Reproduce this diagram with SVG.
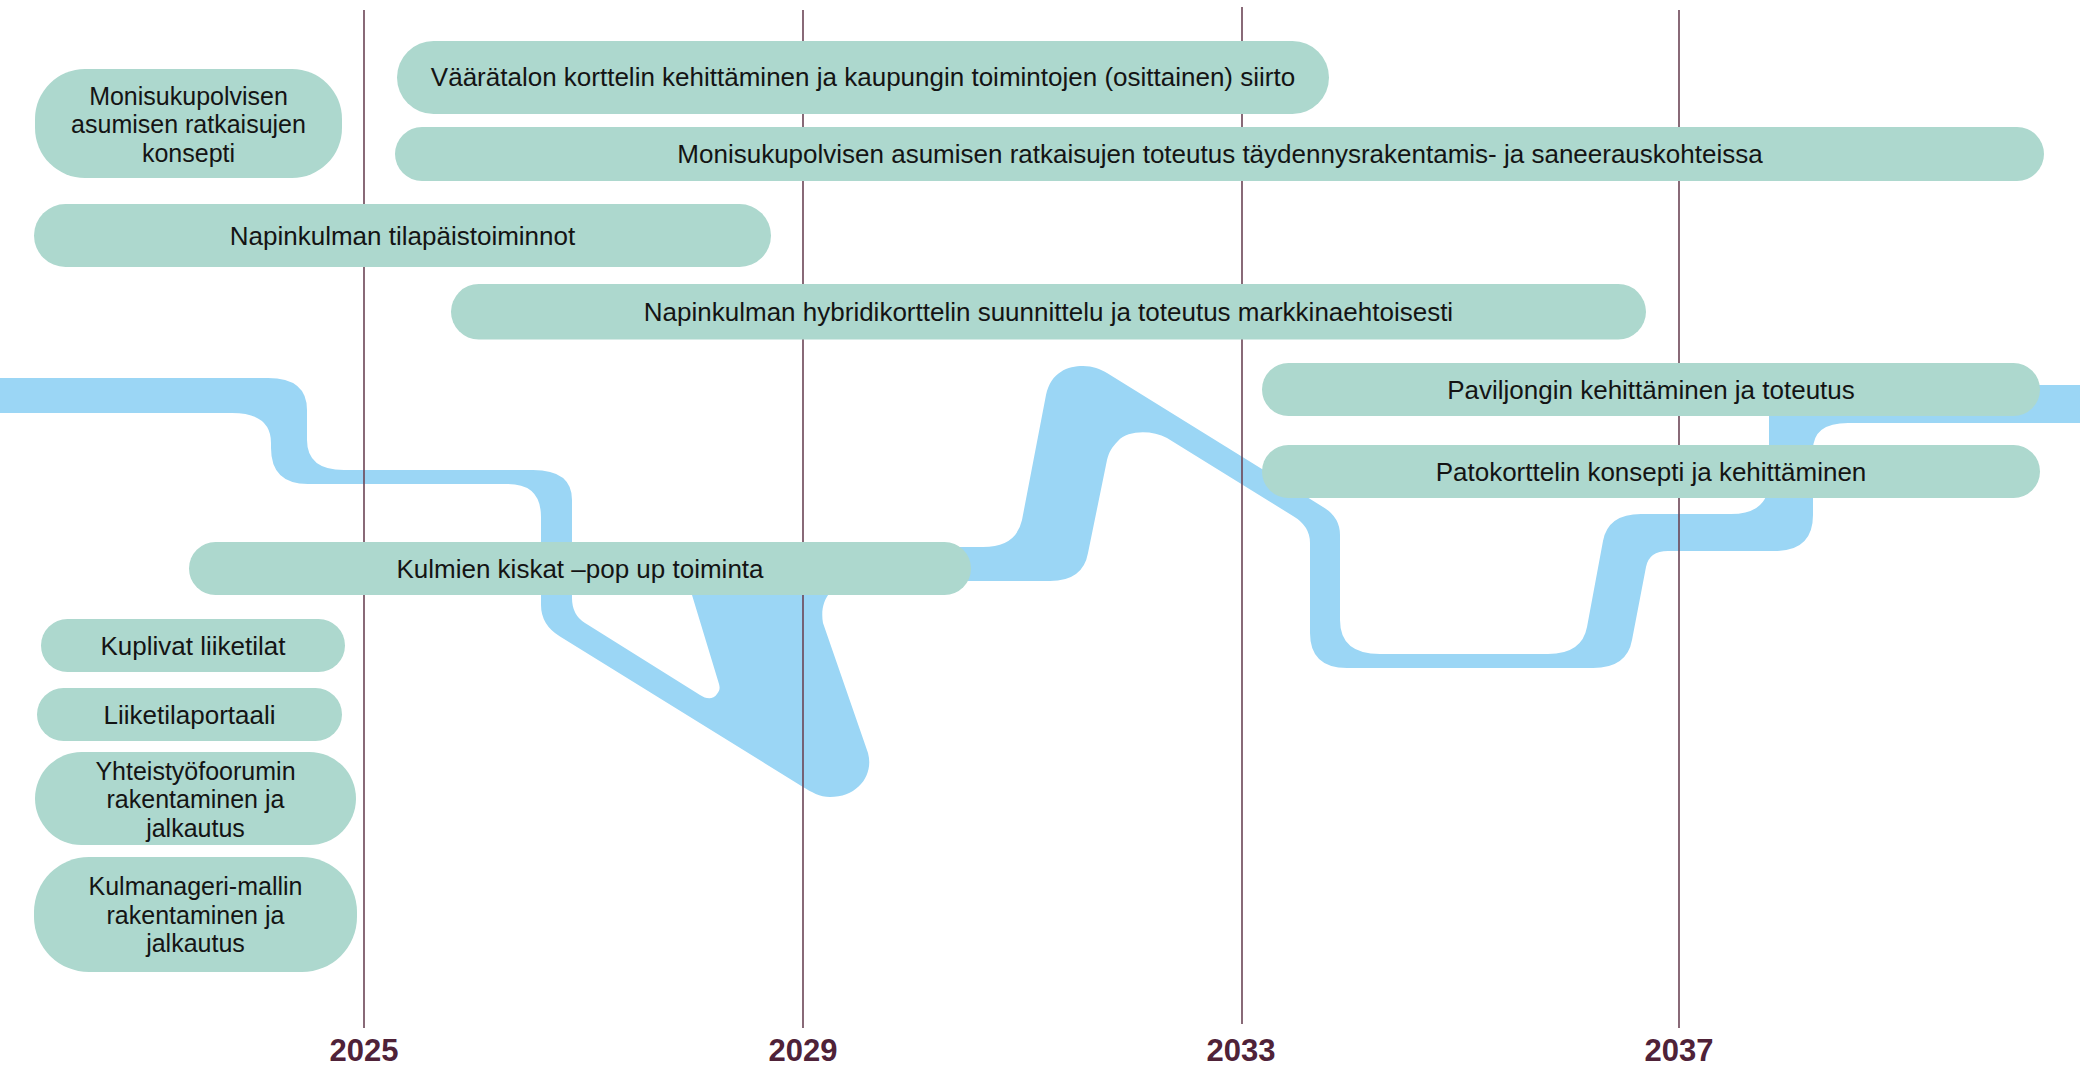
<svg xmlns="http://www.w3.org/2000/svg" width="2080" height="1068" viewBox="0 0 2080 1068">
<style>
.river{fill:#9bd6f5;}
.yl{stroke:#6b4456;stroke-width:1.6;fill:none;}
.yr{font-family:"Liberation Sans",Arial,sans-serif;font-weight:bold;font-size:31px;fill:#4f2238;text-anchor:middle;}
.pill{fill:#add8ce;}
.t{font-family:"Liberation Sans",Arial,sans-serif;font-size:26px;fill:#141414;text-anchor:middle;}
.m{font-size:25px;}
</style>
<rect width="2080" height="1068" fill="#ffffff"/>
<g id="connectors">
<path id="river" class="river" d="M 0,378 H 268 Q 307,378 307,410 V 440 Q 307,470 344,470 H 533 Q 572,470 572,500 V 598 Q 572,615 585,623 L 700,695 C 706,699 713,700 717,694 C 720,690 720,688 719,684 L 692,595 L 690,565 Q 690,547 712,547 H 983 Q 1016,547 1022,520 L 1046,395 C 1051,372 1068,366 1083,366 C 1093,366 1100,369 1107,373 L 1323,507 Q 1340,517 1340,535 V 620 Q 1340,654 1380,654 H 1548 Q 1582,654 1587,627 L 1603,541 Q 1608,514 1641,514 H 1731 Q 1769,514 1769,480 V 400 Q 1769,385 1790,385 H 2080 V 423 H 1848 Q 1813,423 1813,450 V 515 Q 1813,551 1775,551 H 1668 Q 1649,551 1646,567 L 1632,640 Q 1627,668 1593,668 H 1347 Q 1310,668 1310,633 V 543 Q 1310,526 1293,516 L 1167,438 C 1152,430 1128,430 1118,441 C 1112,447 1109,452 1107,460 L 1088,553 Q 1083,581 1050,581 H 850 C 832,585 819,600 823,623 L 868,753 C 874,775 858,797 830,797 C 820,797 811,792 803,787 L 560,636.5 Q 541,625 541,605 V 517 Q 541,484 508,484 H 308 Q 271,484 271,448 V 443 Q 271,413 232,413 H 0 Z"/>
</g>
<g id="timeline">
<line class="yl" x1="364" y1="10" x2="364" y2="1028"/>
<line class="yl" x1="803" y1="10" x2="803" y2="1028"/>
<line class="yl" x1="1242" y1="7" x2="1242" y2="1024"/>
<line class="yl" x1="1679" y1="10" x2="1679" y2="1028"/>
<text class="yr" x="364" y="1061">2025</text>
<text class="yr" x="803" y="1061">2029</text>
<text class="yr" x="1241" y="1061">2033</text>
<text class="yr" x="1679" y="1061">2037</text>
</g>
<g id="node-a">
<rect class="pill" x="35" y="69" width="307" height="109" rx="50" ry="50"/>
<text class="t m" x="188.5" y="104.5">Monisukupolvisen</text>
<text class="t m" x="188.5" y="133">asumisen ratkaisujen</text>
<text class="t m" x="188.5" y="161.5">konsepti</text>
</g>
<g id="node-b">
<rect class="pill" x="397" y="41" width="932" height="73" rx="36.5" ry="36.5"/>
<text class="t" x="863" y="86">Väärätalon korttelin kehittäminen ja kaupungin toimintojen (osittainen) siirto</text>
</g>
<g id="node-c">
<rect class="pill" x="395" y="127" width="1649" height="54" rx="27" ry="27"/>
<text class="t" x="1220" y="163">Monisukupolvisen asumisen ratkaisujen toteutus täydennysrakentamis- ja saneerauskohteissa</text>
</g>
<g id="node-d">
<rect class="pill" x="34" y="204" width="737" height="63" rx="31.5" ry="31.5"/>
<text class="t" x="402.5" y="244.5">Napinkulman tilapäistoiminnot</text>
</g>
<g id="node-e">
<rect class="pill" x="451" y="284" width="1195" height="55.5" rx="27.75" ry="27.75"/>
<text class="t" x="1048.5" y="321">Napinkulman hybridikorttelin suunnittelu ja toteutus markkinaehtoisesti</text>
</g>
<g id="node-f">
<rect class="pill" x="1262" y="363" width="778" height="53" rx="26.5" ry="26.5"/>
<text class="t" x="1651" y="398.5">Paviljongin kehittäminen ja toteutus</text>
</g>
<g id="node-g">
<rect class="pill" x="1262" y="445" width="778" height="53" rx="26.5" ry="26.5"/>
<text class="t" x="1651" y="480.5">Patokorttelin konsepti ja kehittäminen</text>
</g>
<g id="node-h">
<rect class="pill" x="189" y="542" width="782" height="53" rx="26.5" ry="26.5"/>
<text class="t" x="580" y="577.5">Kulmien kiskat –pop up toiminta</text>
</g>
<g id="node-i">
<rect class="pill" x="41" y="619" width="304" height="53" rx="26.5" ry="26.5"/>
<text class="t" x="193" y="655">Kuplivat liiketilat</text>
</g>
<g id="node-j">
<rect class="pill" x="37" y="688" width="305" height="53" rx="26.5" ry="26.5"/>
<text class="t" x="189.5" y="724">Liiketilaportaali</text>
</g>
<g id="node-k">
<rect class="pill" x="35" y="752" width="321" height="93" rx="46.5" ry="46.5"/>
<text class="t m" x="195.5" y="779.5">Yhteistyöfoorumin</text>
<text class="t m" x="195.5" y="808">rakentaminen ja</text>
<text class="t m" x="195.5" y="836.5">jalkautus</text>
</g>
<g id="node-l">
<rect class="pill" x="34" y="857" width="323" height="115" rx="55" ry="55"/>
<text class="t m" x="195.5" y="895">Kulmanageri-mallin</text>
<text class="t m" x="195.5" y="924">rakentaminen ja</text>
<text class="t m" x="195.5" y="952">jalkautus</text>
</g>
</svg>
